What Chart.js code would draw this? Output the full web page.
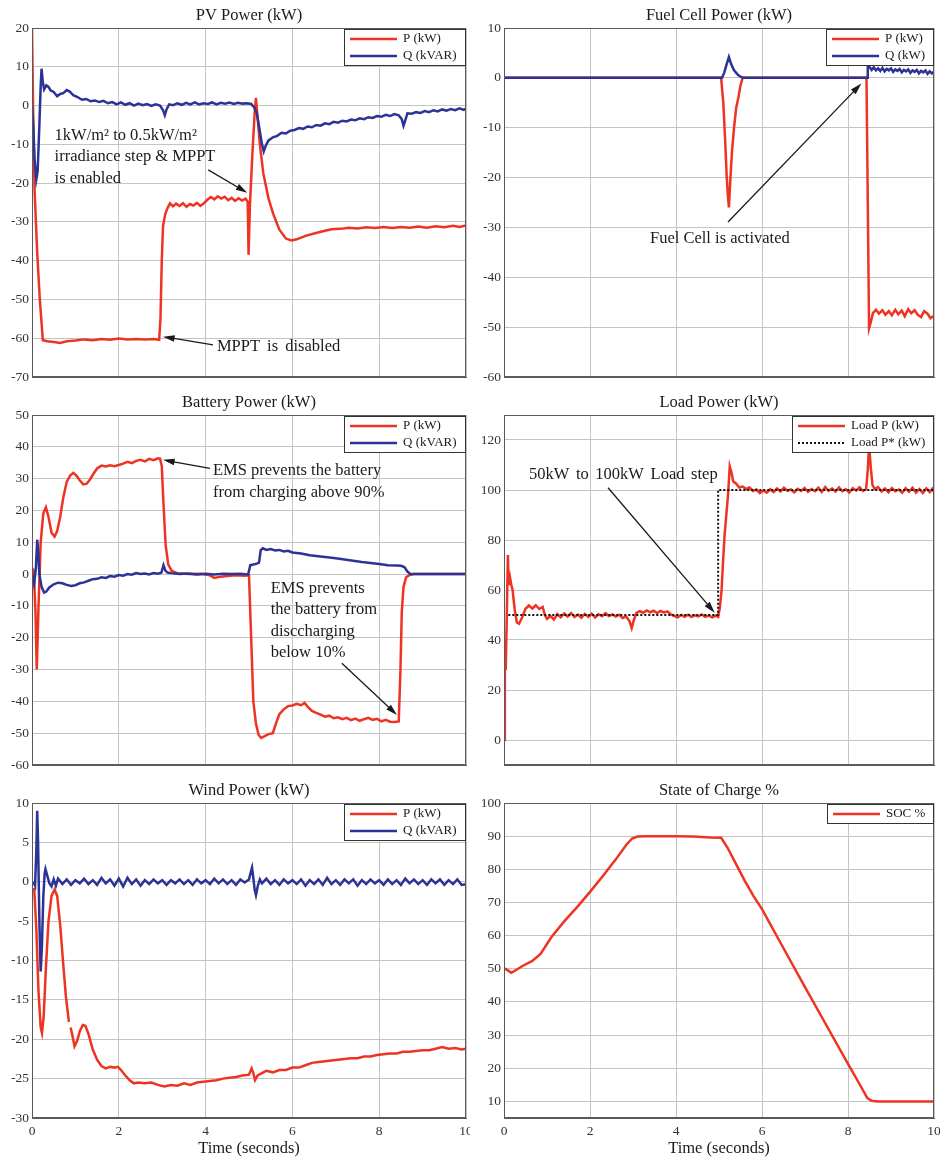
<!DOCTYPE html>
<html>
<head>
<meta charset="utf-8">
<script src="https://cdn.jsdelivr.net/npm/chart.js@4.4.1/dist/chart.umd.min.js"></script>
<style>
  body { margin: 0; background: #fff; }
  #wrap { position: relative; width: 940px; height: 1159px; }
  canvas { position: absolute; }
</style>
</head>
<body>
<div id="wrap">
  <canvas id="pv" width="470" height="387" style="left:0;top:0"></canvas>
  <canvas id="fc" width="470" height="387" style="left:470px;top:0"></canvas>
  <canvas id="bat" width="470" height="388" style="left:0;top:387px"></canvas>
  <canvas id="load" width="470" height="388" style="left:470px;top:387px"></canvas>
  <canvas id="wind" width="470" height="384" style="left:0;top:775px"></canvas>
  <canvas id="soc" width="470" height="384" style="left:470px;top:775px"></canvas>
</div>
<script>
// tick labels
const timeTicks = [0, 2, 4, 6, 8, 10];
const pvTicks = [-70, -60, -50, -40, -30, -20, -10, 0, 10, 20];
const fcTicks = [-60, -50, -40, -30, -20, -10, 0, 10];
const batTicks = [-60, -50, -40, -30, -20, -10, 0, 10, 20, 30, 40, 50];
const loadTicks = [0, 20, 40, 60, 80, 100, 120];
const windTicks = [-30, -25, -20, -15, -10, -5, 0, 5, 10];
const socTicks = [10, 20, 30, 40, 50, 60, 70, 80, 90, 100];

// PV power
const pvPTime = [0, 0.03, 0.06, 0.12, 0.18, 0.25, 0.35, 0.5, 0.65, 0.8, 1.0, 1.2, 1.4, 1.6, 1.8, 2.0, 2.2, 2.4, 2.6, 2.8,
  2.93, 2.96, 2.99, 3.02, 3.07, 3.12, 3.18, 3.25, 3.32, 3.4, 3.48, 3.56, 3.64, 3.72, 3.8, 3.88, 3.96,
  4.04, 4.12, 4.2, 4.28, 4.36, 4.44, 4.52, 4.6, 4.68, 4.76, 4.84, 4.92, 4.97, 4.99, 5.02, 5.08, 5.13, 5.16, 5.19,
  5.25, 5.33, 5.45, 5.56, 5.7, 5.85, 5.98, 6.1, 6.3, 6.5, 6.7, 6.9, 7.1, 7.3, 7.5, 7.7, 7.9, 8.1, 8.3, 8.5, 8.7,
  8.9, 9.1, 9.3, 9.5, 9.7, 9.85, 10];
const pvP = [20, -5, -22, -38, -50, -60.5, -60.8, -61, -61.2, -60.8, -60.6, -60.3, -60.5, -60.2, -60.4, -60.1, -60.3, -60.2, -60.3, -60.2,
  -60.4, -55, -40, -31, -28, -26.5, -25.2, -26, -25.3, -25.9, -25.2, -26.1, -25.4, -25.8, -25.1, -25.9, -25.2,
  -24.3, -23.6, -24.2, -23.4, -24.0, -23.5, -24.4, -23.8, -24.6, -23.9, -24.5, -24.0, -24.8, -38.5, -26, -12, -2, 2, -2,
  -10, -17.5, -24, -28, -32, -34.3, -34.8, -34.5, -33.6, -33, -32.4, -31.9, -31.8, -31.5, -31.7, -31.4, -31.6, -31.3, -31.6, -31.3, -31.5,
  -31.2, -31.5, -31.1, -31.4, -31.0, -31.3, -30.9];
const pvQTime = [0, 0.03, 0.06, 0.1, 0.13, 0.17, 0.2, 0.22, 0.25, 0.28, 0.33, 0.38, 0.43, 0.5, 0.58, 0.65, 0.72, 0.8, 0.87, 0.95,
  1.05, 1.15, 1.25, 1.35, 1.45, 1.55, 1.65, 1.75, 1.85, 1.95, 2.05, 2.15, 2.25, 2.35, 2.45, 2.55, 2.65, 2.75, 2.85, 2.95,
  3.02, 3.06, 3.1, 3.16, 3.25, 3.35, 3.45, 3.55, 3.65, 3.75, 3.85, 3.95, 4.05, 4.15, 4.25, 4.35, 4.45, 4.55, 4.65, 4.75, 4.85, 4.95,
  5.05, 5.12, 5.18, 5.24, 5.3, 5.34, 5.38, 5.45, 5.55, 5.65, 5.75, 5.85, 5.95, 6.05, 6.15, 6.25, 6.35, 6.45, 6.55, 6.65, 6.75, 6.85, 6.95,
  7.05, 7.15, 7.25, 7.35, 7.45, 7.55, 7.65, 7.75, 7.85, 7.95, 8.05, 8.15, 8.25, 8.35, 8.45, 8.52, 8.56, 8.6, 8.65,
  8.75, 8.85, 8.95, 9.05, 9.15, 9.25, 9.35, 9.45, 9.55, 9.65, 9.75, 9.85, 9.95, 10];
const pvQ = [0, -5, -14, -19, -17, -5, 5, 9.5, 6, 4.2, 5.2, 4.8, 3.9, 3.5, 2.4, 3.0, 3.2, 4.0, 3.6, 2.7,
  2.2, 1.5, 1.7, 1.1, 1.3, 0.9, 1.2, 0.6, 0.9, 0.3, 0.8, 0.2, 0.6, 0.0, 0.5, 0.1, 0.4, -0.1, 0.3, 0.0,
  -1.2, -2.5, -1.0, 0.3, 0.1, 0.6, 0.2, 0.7, 0.3, 0.8, 0.3, 0.6, 0.4, 0.8, 0.3, 0.7, 0.5, 0.8, 0.4, 0.7, 0.5, 0.6,
  0.4, -0.5, -2, -6, -10, -11.8, -10.5, -9, -8.2, -7.8, -7.0, -7.2, -6.5, -6.3, -5.8, -6.0, -5.4, -5.6, -5.0, -5.2, -4.6, -4.8, -4.2,
  -4.4, -3.9, -4.1, -3.6, -3.8, -3.3, -3.5, -3.0, -3.2, -2.7, -2.9, -2.4, -2.7, -2.2, -2.5, -3.5, -5.2, -3.8, -2.0,
  -2.1, -1.7, -1.9, -1.4, -1.7, -1.2, -1.5, -1.0, -1.3, -0.9, -1.2, -0.7, -1.1, -0.8];

// Fuel cell power
const fcPTime = [0, 5.05, 5.1, 5.14, 5.18, 5.21, 5.23, 5.26, 5.3, 5.35, 5.4, 5.45, 5.5, 5.55,
  8.43, 8.46, 8.49, 8.53, 8.58, 8.65, 8.72, 8.8, 8.87, 8.95, 9.02, 9.1, 9.17, 9.25, 9.32, 9.4, 9.47, 9.55, 9.62, 9.7, 9.77, 9.85, 9.92, 10];
const fcP = [0, 0, -5, -12, -20, -24, -26, -21, -15, -10, -6, -4, -1.5, 0,
  0, -25, -50.2, -49, -47.2, -46.5, -47.3, -46.6, -47.5, -46.8, -47.6, -46.5, -47.4, -46.7, -47.8, -46.4, -47.2, -46.6, -47.5, -48.0, -46.8, -47.3, -48.2, -47.7];
const fcQTime = [0, 5.07, 5.12, 5.17, 5.23, 5.28, 5.35, 5.45, 5.55, 8.45, 8.46, 8.5,
  8.55, 8.6, 8.65, 8.7, 8.75, 8.8, 8.85, 8.9, 8.95, 9.0, 9.05, 9.1, 9.15, 9.2, 9.25, 9.3, 9.35, 9.4, 9.45, 9.5,
  9.55, 9.6, 9.65, 9.7, 9.75, 9.8, 9.85, 9.9, 9.95, 10];
const fcQ = [0, 0, 1, 2.5, 4.2, 2.8, 1.5, 0.5, 0, 0, 2.8, 2.2,
  1.6, 2.1, 1.5, 1.9, 1.4, 2.0, 1.3, 1.8, 1.5, 1.9, 1.2, 1.7, 1.4, 1.8, 1.1, 1.6, 1.3, 1.7, 1.0, 1.5,
  1.2, 1.6, 0.9, 1.4, 1.1, 1.5, 0.8, 1.3, 0.9, 1.2];

// Battery power
const batPTime = [0, 0.04, 0.08, 0.11, 0.15, 0.2, 0.26, 0.32, 0.38, 0.45, 0.52, 0.58, 0.65, 0.72, 0.8, 0.88, 0.95,
  1.02, 1.1, 1.18, 1.26, 1.34, 1.42, 1.5, 1.6, 1.7, 1.8, 1.9, 2.0, 2.1, 2.2, 2.3, 2.4, 2.5, 2.6, 2.7, 2.8, 2.9, 2.95,
  2.99, 3.03, 3.08, 3.14, 3.22, 3.35, 3.6, 3.9, 4.1, 4.2, 4.35, 4.5, 4.7, 4.9, 5.0, 5.05, 5.1, 5.16, 5.22, 5.28, 5.35,
  5.45, 5.55, 5.62, 5.7, 5.8, 5.9, 6.0, 6.1, 6.2, 6.28, 6.36, 6.45, 6.55, 6.65, 6.75, 6.85, 6.95, 7.05, 7.15, 7.25,
  7.35, 7.45, 7.55, 7.65, 7.75, 7.85, 7.95, 8.05, 8.15, 8.25, 8.35, 8.45, 8.49, 8.52, 8.56, 8.62, 8.7, 8.8, 10];
const batP = [2, 1, -12, -30, -10, 10, 19, 21, 18, 13, 11.8, 13.5, 18, 24, 29, 31, 31.8,
  31, 29.5, 28.2, 28.4, 29.8, 31.6, 33.2, 34.1, 33.8, 34.2, 33.9, 34.3, 34.7, 35.3, 34.9, 35.6, 35.9, 35.4, 36.2, 35.8, 36.4, 36.3,
  34, 22, 9, 3, 1, 0.3, 0, 0.1, -0.4, -1.2, -0.8, -0.6, -0.4, -0.5, -0.4, -20, -40, -47, -50.5, -51.5, -51,
  -50.3, -50, -47, -44, -42.5, -41.5, -41.3, -40.8, -41.2, -40.5, -41.8, -43, -43.6, -44.2, -44.8, -44.5, -45.3, -45.0, -45.6, -45.2,
  -45.9, -45.4, -46.1, -45.6, -45.2, -45.8, -45.5, -46.3, -45.8, -46.4, -46.5, -46.3, -30, -12, -4, -1, -0.3, 0, 0];
const batQTime = [0, 0.05, 0.09, 0.12, 0.14, 0.17, 0.22, 0.28, 0.33, 0.4, 0.5, 0.6, 0.7, 0.8, 0.9, 1.0, 1.1, 1.2, 1.3, 1.4,
  1.5, 1.6, 1.7, 1.8, 1.9, 2.0, 2.1, 2.2, 2.3, 2.4, 2.5, 2.6, 2.7, 2.8, 2.9, 2.98, 3.03, 3.07, 3.12, 3.2, 3.4, 3.6,
  3.8, 4.0, 4.2, 4.4, 4.6, 4.8, 4.98, 5.03, 5.1, 5.18, 5.23, 5.27, 5.32, 5.4, 5.5, 5.6, 5.7, 5.8, 5.9, 6.0, 6.2, 6.4,
  6.6, 6.8, 7.0, 7.2, 7.4, 7.6, 7.8, 8.0, 8.2, 8.4, 8.5, 8.58, 8.65, 8.72, 10];
const batQ = [0, -3, 2, 10.8, 8, 0, -4, -5.8, -5.5, -4.2, -3.2, -2.7, -2.9, -3.4, -3.7, -3.5, -2.9, -2.6, -2.1, -1.6,
  -1.5, -1.0, -1.2, -0.6, -0.8, -0.3, -0.5, 0.0, -0.2, 0.3, 0.0, 0.2, -0.1, 0.3, 0.1, 0.4, 2.8, 1.2, 0.5, 0.3, 0.0, 0.2,
  -0.1, 0.1, -0.1, 0.1, 0.0, 0.1, -0.1, 2.8, 3.0, 3.3, 3.6, 7.5, 8.1, 7.6, 7.9, 7.4, 7.6, 7.1, 7.3, 6.8, 6.5, 5.9,
  5.6, 5.3, 5.0, 4.6, 4.2, 3.8, 3.5, 3.2, 2.8, 2.7, 2.6, 2.2, 0.8, 0, 0];

// Load power
const loadTime = [0, 0.02, 0.04, 0.06, 0.09, 0.11, 0.14, 0.17, 0.2, 0.25, 0.3, 0.35, 0.42, 0.5, 0.58, 0.66, 0.74, 0.82, 0.9, 0.95,
  1.0, 1.08, 1.16, 1.24, 1.32, 1.4, 1.48, 1.56, 1.64, 1.72, 1.8, 1.88, 1.96, 2.04, 2.12, 2.2, 2.28, 2.36, 2.44, 2.52,
  2.6, 2.68, 2.76, 2.84, 2.92, 2.97, 3.02, 3.08, 3.16, 3.24, 3.32, 3.4, 3.48, 3.56, 3.64, 3.72, 3.8, 3.88, 3.96,
  4.04, 4.12, 4.2, 4.28, 4.36, 4.44, 4.52, 4.6, 4.68, 4.76, 4.84, 4.92, 4.98, 5.02, 5.06, 5.09, 5.13, 5.17, 5.21, 5.25,
  5.29, 5.33, 5.4, 5.47, 5.55, 5.63, 5.71, 5.79, 5.87, 5.95, 6.03, 6.11, 6.19, 6.27, 6.35, 6.43, 6.51, 6.59, 6.67, 6.75,
  6.83, 6.91, 6.99, 7.07, 7.15, 7.23, 7.31, 7.39, 7.47, 7.55, 7.63, 7.71, 7.79, 7.87, 7.95, 8.03, 8.11, 8.19, 8.27, 8.35,
  8.42, 8.46, 8.49, 8.53, 8.57, 8.62, 8.7, 8.78, 8.86, 8.94, 9.02, 9.1, 9.18, 9.26, 9.34, 9.42, 9.5, 9.58, 9.66, 9.74,
  9.82, 9.9, 9.96, 10];
const loadP = [0, 40, 28, 45, 74, 62, 65, 62, 60, 52, 47, 46.5, 49, 52.5, 53.8, 52.6, 53.9, 52.4, 53.2, 50,
  48.5, 49.6, 48.2, 50.3, 49.1, 50.6, 49.4, 50.8, 49.2, 50.2, 48.9, 50.4, 49.3, 50.5, 49.0, 50.3, 49.5, 50.7, 49.6, 50.2,
  49.4, 50.1, 48.8, 49.4, 47.5, 44.8, 48, 50.8, 51.5, 50.9, 51.8, 51.1, 51.7, 50.8, 51.6, 51.0, 51.4, 50.2, 49.6,
  49.1, 50.0, 49.3, 50.1, 49.2, 49.9, 49.4, 50.2, 49.3, 49.8, 49.1, 49.7, 49.2, 53, 60, 70, 82, 90, 98, 109.5,
  107, 103.5, 102.5, 101, 101.4, 100.4, 101.0, 99.6, 100.2, 98.8, 99.8, 98.9, 100.3, 99.2, 100.6, 99.4, 100.9, 99.7, 100.2, 99.1,
  100.5, 99.6, 100.8, 99.3, 100.4, 99.5, 100.9, 99.2, 101.2, 99.7, 100.6, 99.4, 101.0, 99.5, 100.3, 99.0, 100.7, 99.8, 101.1, 99.6,
  100.3, 108, 118, 109, 102, 100.5, 101.2, 99.4, 100.6, 99.1, 100.8, 99.5, 100.2, 98.9, 100.7, 99.3, 100.9, 99.0, 100.4, 98.8,
  100.6, 99.2, 100.5, 99.1];
const loadRefTime = [0.1, 4.98, 4.98, 10];
const loadRef = [50, 50, 100, 100];

// Wind power
const windPTime = [0.05, 0.1, 0.15, 0.2, 0.23, 0.27, 0.32, 0.38, 0.45, 0.52, 0.58, 0.65, 0.72, 0.78, 0.85, 0.87,
  0.89, 0.93, 0.98, 1.04, 1.1, 1.17, 1.23, 1.3, 1.4, 1.5, 1.6, 1.7, 1.8, 1.9, 1.98, 2.05, 2.15, 2.25, 2.35, 2.45,
  2.6, 2.75, 2.9, 3.05, 3.2, 3.35, 3.5, 3.65, 3.8, 3.95, 4.1, 4.25, 4.4, 4.55, 4.7, 4.85, 5.0, 5.06, 5.1, 5.14, 5.2,
  5.3, 5.4, 5.55, 5.7, 5.85, 6.0, 6.15, 6.3, 6.45, 6.6, 6.75, 6.9, 7.05, 7.2, 7.35, 7.5, 7.65, 7.8, 7.95, 8.1, 8.25,
  8.4, 8.55, 8.7, 8.85, 9.0, 9.15, 9.3, 9.45, 9.6, 9.75, 9.9, 10];
const windP = [-0.8, -6, -14, -18.5, -19.2, -17, -11, -5, -1.8, -1.0, -1.8, -5.5, -10.5, -14.5, -17.8, null,
  -18.5, -19.5, -20.9, -20.2, -19, -18.2, -18.3, -19.3, -21.3, -22.6, -23.4, -23.7, -23.5, -23.6, -23.5, -23.9, -24.6, -25.2, -25.6, -25.5,
  -25.6, -25.5, -25.8, -26.0, -25.8, -25.9, -25.6, -25.8, -25.5, -25.4, -25.3, -25.2, -25.0, -24.9, -24.8, -24.6, -24.5, -23.7, -24.3, -25.2, -24.6,
  -24.3, -24.0, -24.2, -23.9, -23.9, -23.6, -23.6, -23.3, -23.0, -22.9, -22.8, -22.7, -22.6, -22.5, -22.4, -22.4, -22.2, -22.2, -22.0, -21.9, -21.8,
  -21.8, -21.6, -21.6, -21.5, -21.4, -21.4, -21.2, -21.0, -21.2, -21.1, -21.3, -21.2];
const windQTime = [0.03, 0.07, 0.1, 0.12, 0.14, 0.17, 0.2, 0.23, 0.26, 0.29, 0.31, 0.35, 0.4, 0.45, 0.5, 0.55,
  0.6, 0.7, 0.8, 0.9, 1.0, 1.1, 1.2, 1.3, 1.4, 1.5, 1.6, 1.7, 1.8, 1.9, 2.0, 2.1, 2.2, 2.3, 2.4, 2.5, 2.6, 2.7, 2.8, 2.9,
  3.0, 3.1, 3.2, 3.3, 3.4, 3.5, 3.6, 3.7, 3.8, 3.9, 4.0, 4.1, 4.2, 4.3, 4.4, 4.5, 4.6, 4.7, 4.8, 4.9, 5.0,
  5.04, 5.07, 5.1, 5.13, 5.16, 5.2, 5.25, 5.3, 5.4, 5.5, 5.6, 5.7, 5.8, 5.9, 6.0, 6.1, 6.2, 6.3, 6.4, 6.5, 6.6, 6.7, 6.8, 6.9,
  7.0, 7.1, 7.2, 7.3, 7.4, 7.5, 7.6, 7.7, 7.8, 7.9, 8.0, 8.1, 8.2, 8.3, 8.4, 8.5, 8.6, 8.7, 8.8, 8.9,
  9.0, 9.1, 9.2, 9.3, 9.4, 9.5, 9.6, 9.7, 9.8, 9.9, 10];
const windQ = [0, -0.5, 4, 9, 5, -5, -11.4, -8, -2, 1.0, 1.6, 0.8, -0.2, -0.6, 0.3, -0.5,
  0.4, -0.3, 0.3, -0.4, 0.2, -0.2, 0.4, -0.3, 0.2, -0.4, 0.5, -0.2, 0.3, -0.5, 0.4, -0.6, 0.5, -0.3, 0.3, -0.5, 0.2, -0.3, 0.3, -0.2,
  0.2, -0.4, 0.2, -0.2, 0.3, -0.3, 0.2, -0.4, 0.3, -0.2, 0.2, -0.3, 0.4, -0.2, 0.3, -0.3, 0.2, -0.4, 0.3, -0.1, 0.3,
  1.2, 1.8, 0.5, -1.0, -1.7, -0.6, 0.3, -0.2, 0.4, -0.3, 0.2, -0.4, 0.3, -0.2, 0.2, -0.3, 0.3, -0.5, 0.2, -0.3, 0.3, -0.4, 0.5, -0.3,
  0.2, -0.4, 0.3, -0.2, 0.3, -0.5, 0.2, -0.3, 0.3, -0.2, 0.2, -0.4, 0.3, -0.3, 0.2, -0.4, 0.4, -0.2, 0.3, -0.3,
  0.2, -0.4, 0.3, -0.2, 0.3, -0.4, 0.2, -0.3, 0.3, -0.4, -0.3];

// State of charge
const socTime = [0, 0.08, 0.17, 0.3, 0.45, 0.65, 0.85, 1.1, 1.4, 1.7, 2.0, 2.3, 2.6, 2.85, 2.98, 3.1, 3.3, 3.6, 4.0, 4.4, 4.8,
  5.05, 5.2, 5.4, 5.6, 5.8, 6.0, 6.5, 7.0, 7.5, 8.0, 8.3, 8.45, 8.55, 8.7, 9.0, 10];
const soc = [50.2, 49.6, 48.8, 49.8, 51.0, 52.3, 54.5, 59.5, 64.3, 68.6, 73.2, 78, 83, 87.5, 89.3, 89.9, 90, 90, 90, 89.9, 89.6,
  89.5, 86.5, 81.5, 76.5, 72, 68, 56.2, 44.5, 32.9, 21.3, 14.5, 11, 10.2, 10, 10, 10];

const FONT = "'Liberation Serif', 'Times New Roman', serif";
const RED = "#ee3322";
const BLUE = "#2c3396";
const GRID = "#c4c4c4";
const FRAME = "#5a5a5a";

const toPoints = (ts, vs) => ts.map((t, i) => ({ x: t, y: vs[i] }));

// order: second series is plotted last (on top), as in matlab
const line = (label, ts, vs, color, order, dash) => ({
  label: label,
  data: toPoints(ts, vs),
  borderColor: color,
  borderWidth: dash ? 2 : 2.5,
  borderDash: dash || [],
  order: order,
  pointRadius: 0,
  tension: 0,
  spanGaps: false,
});

// box around the plot, like matlab "box on"
const framePlugin = {
  id: "frame",
  afterDatasetsDraw(chart) {
    const { ctx, chartArea: a } = chart;
    ctx.save();
    ctx.strokeStyle = FRAME;
    ctx.lineWidth = 1;
    ctx.strokeRect(a.left + 0.5, a.top + 0.5, a.right - a.left - 1, a.bottom - a.top - 1);
    ctx.restore();
  },
};

const drawArrow = (ctx, x1, y1, x2, y2) => {
  const ang = Math.atan2(y2 - y1, x2 - x1);
  ctx.beginPath();
  ctx.moveTo(x1, y1);
  ctx.lineTo(x2 - 8 * Math.cos(ang), y2 - 8 * Math.sin(ang));
  ctx.stroke();
  ctx.beginPath();
  ctx.moveTo(x2, y2);
  ctx.lineTo(x2 - 12 * Math.cos(ang - 0.28), y2 - 12 * Math.sin(ang - 0.28));
  ctx.lineTo(x2 - 12 * Math.cos(ang + 0.28), y2 - 12 * Math.sin(ang + 0.28));
  ctx.closePath();
  ctx.fill();
};

const notesPlugin = (notes) => ({
  id: "notes",
  afterDatasetsDraw(chart) {
    const { ctx, scales: { x, y } } = chart;
    ctx.save();
    ctx.font = `16.5px ${FONT}`;
    ctx.fillStyle = "#1a1a1a";
    ctx.strokeStyle = "#1a1a1a";
    ctx.lineWidth = 1.3;
    ctx.textBaseline = "middle";
    notes.texts.forEach((n) => {
      ctx.textAlign = n.align || "left";
      ctx.wordSpacing = n.spacing || "0px";
      n.lines.forEach((txt, i) => {
        ctx.fillText(txt, x.getPixelForValue(n.x), y.getPixelForValue(n.y) + i * 21.5);
      });
    });
    ctx.wordSpacing = "0px";
    notes.arrows.forEach((a) => {
      drawArrow(ctx, x.getPixelForValue(a.from[0]), y.getPixelForValue(a.from[1]),
        x.getPixelForValue(a.to[0]), y.getPixelForValue(a.to[1]));
    });
    ctx.restore();
  },
});

// matlab style legend box in the top right corner
const boxLegend = {
  id: "boxLegend",
  afterDatasetsDraw(chart) {
    const { ctx, chartArea: a } = chart;
    const sets = chart.data.datasets;
    ctx.save();
    ctx.font = `13px ${FONT}`;
    const textW = Math.max(...sets.map((d) => ctx.measureText(d.label).width));
    const w = Math.round(6 + 47 + 6 + textW + 8);
    const h = Math.round(10 + 17 * (sets.length - 1) + 9);
    const left = Math.round(a.right - 1 - w);
    const top = Math.round(a.top + 1);
    ctx.fillStyle = "#fff";
    ctx.fillRect(left, top, w, h);
    ctx.strokeStyle = "#333";
    ctx.lineWidth = 1;
    ctx.strokeRect(left + 0.5, top + 0.5, w, h);
    ctx.textBaseline = "middle";
    ctx.textAlign = "left";
    sets.forEach((d, i) => {
      const yy = top + 10 + i * 17;
      ctx.strokeStyle = d.borderColor;
      ctx.lineWidth = d.borderWidth;
      ctx.setLineDash(d.borderDash || []);
      ctx.beginPath();
      ctx.moveTo(left + 6, yy);
      ctx.lineTo(left + 53, yy);
      ctx.stroke();
      ctx.setLineDash([]);
      ctx.fillStyle = "#1a1a1a";
      ctx.fillText(d.label, left + 59, yy);
    });
    ctx.restore();
  },
};

const panel = (id, cfg) => new Chart(document.getElementById(id), {
  type: "line",
  data: { datasets: cfg.datasets },
  options: {
    responsive: false,
    animation: false,
    events: [],
    layout: { padding: { left: 0, top: 0, right: cfg.left ? 4 : 6, bottom: cfg.bottom ? 0 : 10 } },
    plugins: {
      legend: { display: false },
      tooltip: { enabled: false },
      title: {
        display: true,
        text: cfg.title,
        fullSize: false,
        color: "#1a1a1a",
        font: { family: FONT, size: 16.5, weight: "normal", lineHeight: 1.2 },
        padding: { top: 5.5, bottom: 2.7 },
      },
    },
    scales: {
      x: {
        type: "linear",
        min: 0,
        max: 10,
        afterBuildTicks: (s) => { s.ticks = timeTicks.map((v) => ({ value: v })); },
        afterFit: (s) => { s.height = cfg.bottom ? 41 : 0; s.paddingLeft = 0; s.paddingRight = 0; },
        grid: { color: GRID, drawTicks: false },
        border: { color: FRAME },
        ticks: { display: !!cfg.bottom, padding: 5, color: "#333", font: { family: FONT, size: 13.5 } },
        title: {
          display: !!cfg.bottom,
          text: "Time (seconds)",
          color: "#1a1a1a",
          font: { family: FONT, size: 16.5, lineHeight: 1.2 },
          padding: 0,
        },
      },
      y: {
        min: cfg.min,
        max: cfg.max,
        afterBuildTicks: (s) => { s.ticks = cfg.ticks.map((v) => ({ value: v })); },
        afterFit: (s) => { s.width = cfg.left ? 32 : 34; s.paddingTop = 0; s.paddingBottom = 0; },
        grid: { color: GRID, drawTicks: false },
        border: { color: FRAME },
        ticks: { padding: 3, color: "#333", font: { family: FONT, size: 13.5 } },
      },
    },
  },
  plugins: [framePlugin, notesPlugin(cfg.notes), boxLegend],
});

panel("pv", {
  title: "PV Power (kW)", left: true, min: -70, max: 20, ticks: pvTicks,
  datasets: [line("P (kW)", pvPTime, pvP, RED, 1), line("Q (kVAR)", pvQTime, pvQ, BLUE, 0)],
  notes: {
    texts: [
      { x: 0.52, y: -7.7, lines: ["1kW/m\u00b2 to 0.5kW/m\u00b2", "irradiance step & MPPT", "is enabled"] },
      { x: 4.26, y: -62.3, spacing: "3px", lines: ["MPPT is disabled"] },
    ],
    arrows: [
      { from: [4.06, -16.6], to: [4.96, -22.5] },
      { from: [4.17, -61.7], to: [3.02, -59.6] },
    ],
  },
});

panel("fc", {
  title: "Fuel Cell Power (kW)", left: false, min: -60, max: 10, ticks: fcTicks,
  datasets: [line("P (kW)", fcPTime, fcP, RED, 1), line("Q (kW)", fcQTime, fcQ, BLUE, 0)],
  notes: {
    texts: [{ x: 5.02, y: -32.2, align: "center", lines: ["Fuel Cell is activated"] }],
    arrows: [{ from: [5.21, -28.9], to: [8.31, -1.15] }],
  },
});

panel("bat", {
  title: "Battery Power (kW)", left: true, min: -60, max: 50, ticks: batTicks,
  datasets: [line("P (kW)", batPTime, batP, RED, 1), line("Q (kVAR)", batQTime, batQ, BLUE, 0)],
  notes: {
    texts: [
      { x: 4.17, y: 32.4, lines: ["EMS prevents the battery", "from charging above 90%"] },
      { x: 5.5, y: -4.5, lines: ["EMS prevents", "the battery from", "disccharging", "below 10%"] },
    ],
    arrows: [
      { from: [4.1, 33.2], to: [3.02, 35.9] },
      { from: [7.14, -28], to: [8.41, -44.3] },
    ],
  },
});

panel("load", {
  title: "Load Power (kW)", left: false, min: -10, max: 130, ticks: loadTicks,
  datasets: [line("Load P (kW)", loadTime, loadP, RED, 1), line("Load P* (kW)", loadRefTime, loadRef, "#111", 0, [2, 2])],
  notes: {
    texts: [{ x: 0.58, y: 106, spacing: "2.5px", lines: ["50kW to 100kW Load step"] }],
    arrows: [{ from: [2.42, 100.9], to: [4.9, 50.9] }],
  },
});

panel("wind", {
  title: "Wind Power (kW)", left: true, bottom: true, min: -30, max: 10, ticks: windTicks,
  datasets: [line("P (kW)", windPTime, windP, RED, 1), line("Q (kVAR)", windQTime, windQ, BLUE, 0)],
  notes: { texts: [], arrows: [] },
});

panel("soc", {
  title: "State of Charge %", left: false, bottom: true, min: 5, max: 100, ticks: socTicks,
  datasets: [line("SOC %", socTime, soc, RED, 0)],
  notes: { texts: [], arrows: [] },
});
</script>
</body>
</html>
